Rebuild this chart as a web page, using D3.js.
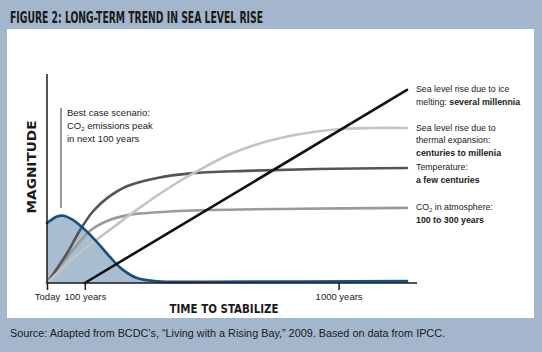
<!DOCTYPE html>
<html>
  <head>
    <meta charset="UTF-8" />
    <script src="https://cdnjs.cloudflare.com/ajax/libs/d3/7.8.5/d3.min.js"></script>
    <style>
      body { margin: 0; }
      svg { display: block; }
    </style>
  </head>
  <body>
    <div id="viz"></div>
    <script>
      // relative time (0 = today, 100 = right end) vs magnitude (0..100)
      const ticks = [
        { t: 0, label: "Today" },
        { t: 10.5, label: "100 years" },
        { t: 81, label: "1000 years" }
      ];

      const iceMelting = [[10.5, 0], [100, 92.8]];
      const thermal = [
        [0, 0], [8, 13], [17, 25], [26, 36.5], [35, 47], [43, 55],
        [51, 62], [60, 67.5], [70, 71.5], [80, 73.8], [90, 74.5], [100, 74.5]
      ];
      const temperature = [
        [0, 0], [5.6, 14.4], [9.2, 25.5], [12.8, 34.5], [16.7, 40.8], [22.2, 46.5],
        [30.6, 50.5], [40, 52.7], [55, 53.9], [75, 54.8], [100, 55.3]
      ];
      const co2 = [
        [0, 0], [7.2, 15.9], [11.9, 25], [16.7, 29.8], [22.2, 32.5],
        [30.6, 34], [45, 35.1], [70, 35.7], [100, 36.1]
      ];
      const emissions = [
        [0, 28.8], [2.8, 32], [4.6, 32.3], [7.2, 30.3], [10, 26.4], [13.9, 19.7],
        [17.5, 12.5], [21.1, 6.3], [25, 2.4], [30.6, 0.8], [45, 0.6], [100, 0.9]
      ];

      const labels = [
        { m: 92.8, lines: [["Sea level rise due to ice", ""], ["melting: ", "several millennia"]] },
        { m: 74.5, lines: [["Sea level rise due to", ""], ["thermal expansion:", ""], ["", "centuries to millenia"]] },
        { m: 55.3, lines: [["Temperature:", ""], ["", "a few centuries"]] },
        { m: 36.1, lines: [["CO2 in atmosphere:", ""], ["", "100 to 300 years"]] }
      ];

      const W = 542, H = 352;
      const bg = "#a4b6cc",
        thermalGray = "#c4c4c4",
        tempGray = "#555555",
        co2Gray = "#9a9a9a",
        blue = "#174f80",
        blueFill = "#a9bdd1",
        ink = "#1a1a1a";
      const sans = "'Liberation Sans', Arial, sans-serif";
      const narrow = "'Liberation Sans Narrow', 'DejaVu Sans Condensed', sans-serif";

      const svg = d3.select("#viz").append("svg").attr("width", W).attr("height", H);

      svg.append("rect").attr("width", W).attr("height", H).attr("fill", bg);
      svg.append("rect")
        .attr("x", 7).attr("y", 29).attr("width", 527).attr("height", 289)
        .attr("fill", "#fff");

      svg.append("text")
        .attr("x", 10).attr("y", 23)
        .attr("font-family", narrow).attr("font-weight", "bold").attr("font-size", 15)
        .attr("textLength", 253).attr("lengthAdjust", "spacingAndGlyphs")
        .attr("fill", ink)
        .text("FIGURE 2: LONG-TERM TREND IN SEA LEVEL RISE");

      const x = d3.scaleLinear().domain([0, 100]).range([47, 407]);
      const y = d3.scaleLinear().domain([0, 100]).range([283, 75]);

      const line = d3.line().x(d => x(d[0])).y(d => y(d[1])).curve(d3.curveCatmullRom.alpha(0.5));
      const area = d3.area().x(d => x(d[0])).y0(y(0)).y1(d => y(d[1])).curve(d3.curveCatmullRom.alpha(0.5));

      // emissions fill
      svg.append("path").attr("d", area(emissions)).attr("fill", blueFill);

      // annotation marker
      svg.append("line")
        .attr("x1", 61).attr("x2", 61).attr("y1", 108).attr("y2", 208)
        .attr("stroke", "#333").attr("stroke-width", 1);
      const note = svg.append("text")
        .attr("font-family", sans).attr("font-size", 9.5).attr("fill", ink);
      note.append("tspan").attr("x", 67).attr("y", 116).text("Best case scenario:");
      const l2 = note.append("tspan").attr("x", 67).attr("y", 129);
      l2.append("tspan").text("CO");
      l2.append("tspan").attr("font-size", 6).attr("dy", 2).text("2");
      l2.append("tspan").attr("dy", -2).text(" emissions peak");
      note.append("tspan").attr("x", 67).attr("y", 142).text("in next 100 years");

      const series = [
        { data: co2, color: co2Gray },
        { data: temperature, color: tempGray },
        { data: thermal, color: thermalGray },
        { data: emissions, color: blue },
        { data: iceMelting, color: "#111" }
      ];
      svg.selectAll("path.series")
        .data(series)
        .enter()
        .append("path")
        .attr("class", "series")
        .attr("d", d => line(d.data))
        .attr("fill", "none")
        .attr("stroke", d => d.color)
        .attr("stroke-width", 2.6)
        .attr("stroke-linecap", "round");

      // axes
      svg.append("line")
        .attr("x1", x(0)).attr("x2", x(0)).attr("y1", 74).attr("y2", y(0))
        .attr("stroke", ink).attr("stroke-width", 1.5);
      const xAxis = d3.axisBottom(x)
        .tickValues(ticks.map(d => d.t))
        .tickFormat((d, i) => ticks[i].label)
        .tickSize(7)
        .tickPadding(3);
      const gx = svg.append("g")
        .attr("transform", `translate(0,${y(0)})`)
        .call(xAxis);
      gx.select(".domain").attr("d", `M${x(0)},0H417`).attr("stroke", ink).attr("stroke-width", 1.5);
      gx.selectAll(".tick line").attr("stroke", ink).attr("stroke-width", 1.5);
      gx.selectAll(".tick text")
        .attr("font-family", sans).attr("font-size", 9.5).attr("fill", ink);

      svg.append("text")
        .attr("x", 224).attr("y", 313)
        .attr("text-anchor", "middle")
        .attr("font-family", narrow).attr("font-weight", "bold").attr("font-size", 13)
        .attr("textLength", 109).attr("lengthAdjust", "spacingAndGlyphs")
        .attr("fill", ink)
        .text("TIME TO STABILIZE");

      svg.append("text")
        .attr("transform", "translate(36,167) rotate(-90)")
        .attr("text-anchor", "middle")
        .attr("font-family", narrow).attr("font-weight", "bold").attr("font-size", 13)
        .attr("textLength", 93).attr("lengthAdjust", "spacingAndGlyphs")
        .attr("fill", ink)
        .text("MAGNITUDE");

      // series labels on right
      labels.forEach(lab => {
        const t = svg.append("text")
          .attr("font-family", sans).attr("font-size", 8.8).attr("fill", ink);
        lab.lines.forEach((ln, i) => {
          const ts = t.append("tspan").attr("x", 416).attr("y", y(lab.m) + 2.5 + i * 12.5);
          const plain = ln[0];
          if (plain.startsWith("CO2")) {
            ts.append("tspan").text("CO");
            ts.append("tspan").attr("font-size", 5.5).attr("dy", 2).text("2");
            ts.append("tspan").attr("dy", -2).text(plain.slice(3));
          } else if (plain) {
            ts.append("tspan").text(plain);
          }
          if (ln[1]) ts.append("tspan").attr("font-weight", "bold").text(ln[1]);
        });
      });

      svg.append("text")
        .attr("x", 10).attr("y", 337)
        .attr("font-family", sans).attr("font-size", 10.5).attr("fill", ink)
        .attr("textLength", 435).attr("lengthAdjust", "spacingAndGlyphs")
        .text("Source: Adapted from BCDC\u2019s, \u201cLiving with a Rising Bay,\u201d 2009. Based on data from IPCC.");
    </script>
  </body>
</html>
